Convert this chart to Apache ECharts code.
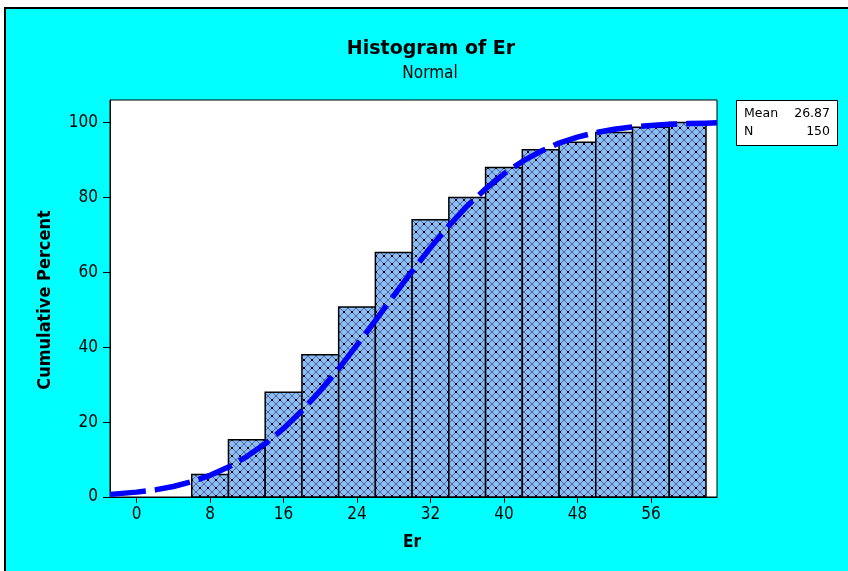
<!DOCTYPE html>
<html>
<head>
<meta charset="utf-8">
<script src="https://cdn.jsdelivr.net/npm/echarts@6/dist/echarts.min.js"></script>
<style>
html,body{margin:0;padding:0;background:#fff;}
#main{width:848px;height:571px;}
</style>
</head>
<body>
<div id="main"></div>
<script>
// ---- data ----
const binStart = [6, 10, 14, 18, 22, 26, 30, 34, 38, 42, 46, 50, 54, 58];
const binEnd   = [10, 14, 18, 22, 26, 30, 34, 38, 42, 46, 50, 54, 58, 62];
const cumPercent = [6.0, 15.3, 28.0, 38.0, 50.7, 65.3, 74.0, 80.0, 88.0, 92.7, 94.7, 97.3, 98.7, 100.0];

// fitted normal cumulative curve
const curveX = [-2.9, 0, 2, 4, 6, 8, 10, 12, 14, 16, 18, 20, 22, 24, 26, 28, 30, 32, 34, 36, 38, 40, 42, 44, 46, 48, 50, 52, 54, 56, 58, 60, 62, 63.2];
const curveY = [0.7, 1.3, 1.9, 2.8, 4.1, 5.8, 8.0, 10.8, 14.2, 18.3, 23.0, 28.4, 34.2, 40.6, 47.1, 53.8, 60.3, 66.6, 72.4, 77.7, 82.3, 86.3, 89.6, 92.3, 94.5, 96.1, 97.3, 98.2, 98.8, 99.2, 99.5, 99.7, 99.8, 99.9];

const xTicks = [0, 8, 16, 24, 32, 40, 48, 56];
const yTicks = [0, 20, 40, 60, 80, 100];
const statLabels = ['Mean', 'N'];
const statValues = ['26.87', '150'];

// ---- crosshatch pattern tile ----
function makeTile() {
  const n = 8;
  const c = document.createElement('canvas');
  c.width = n; c.height = n;
  const g = c.getContext('2d');
  g.fillStyle = '#8EBCF6';
  g.fillRect(0, 0, n, n);
  g.strokeStyle = '#4C6B92';
  g.lineWidth = 1;
  g.beginPath();
  g.moveTo(0, 0); g.lineTo(n, n);
  g.moveTo(n, 0); g.lineTo(0, n);
  g.stroke();
  g.fillStyle = '#000';
  g.fillRect(0, 0, 1, 1);
  g.fillRect(n - 1, 0, 1, 1);
  g.fillRect(0, n - 1, 1, 1);
  g.fillRect(n - 1, n - 1, 1, 1);
  return c;
}
const tile = makeTile();

const barData = binStart.map((s, i) => [s, binEnd[i], cumPercent[i]]);
const curveData = curveX.map((x, i) => [x, curveY[i]]);

const FONT = "'DejaVu Sans Condensed', 'DejaVu Sans', sans-serif";

const chart = echarts.init(document.getElementById('main'), null, {renderer: 'canvas'});
chart.setOption({
  backgroundColor: '#00FFFF',
  animation: false,
  grid: {
    left: 110, top: 100, width: 607, height: 397,
    show: true, backgroundColor: '#ffffff', borderColor: '#000', borderWidth: 1
  },
  xAxis: {
    type: 'value', min: -2.9, max: 63.2,
    axisLine: {show: true, onZero: false, lineStyle: {color: '#000', width: 1}},
    axisTick: {show: true, length: 6, inside: false, customValues: xTicks, lineStyle: {color: '#000'}},
    axisLabel: {customValues: xTicks, color: '#000', fontSize: 17, fontFamily: FONT, margin: 9},
    splitLine: {show: false}
  },
  yAxis: {
    type: 'value', min: 0, max: 106,
    axisLine: {show: true, onZero: false, lineStyle: {color: '#000', width: 1}},
    axisTick: {show: true, length: 7, inside: false, customValues: yTicks, lineStyle: {color: '#000'}},
    axisLabel: {customValues: yTicks, color: '#000', fontSize: 17, fontFamily: FONT, margin: 12},
    splitLine: {show: false}
  },
  series: [
    {
      type: 'custom',
      data: barData,
      encode: {x: [0, 1], y: 2},
      z: 2,
      renderItem: function (params, api) {
        const p1 = api.coord([api.value(0), api.value(2)]);
        const p2 = api.coord([api.value(1), 0]);
        return {
          type: 'rect',
          shape: {x: p1[0], y: p1[1], width: p2[0] - p1[0], height: p2[1] - p1[1]},
          style: {fill: {image: tile, repeat: 'repeat'}, stroke: '#000', lineWidth: 1.5}
        };
      }
    },
    {
      type: 'line',
      data: curveData,
      showSymbol: false,
      smooth: false,
      z: 5,
      lineStyle: {color: '#0000FF', width: 5.5, type: [36, 9], cap: 'butt', join: 'round'}
    }
  ],
  graphic: [
    {type: 'rect', shape: {x: 0, y: 0, width: 848, height: 7}, style: {fill: '#fff'}, silent: true},
    {type: 'rect', shape: {x: 0, y: 0, width: 4, height: 571}, style: {fill: '#fff'}, silent: true},
    {type: 'line', shape: {x1: 4, y1: 8, x2: 848, y2: 8}, style: {stroke: '#000', lineWidth: 2}, silent: true},
    {type: 'line', shape: {x1: 5, y1: 7, x2: 5, y2: 571}, style: {stroke: '#000', lineWidth: 2}, silent: true},
    {type: 'text', x: 431, y: 49, style: {text: 'Histogram of Er', fill: '#000', font: "bold 19px 'DejaVu Sans', sans-serif", textAlign: 'center', textVerticalAlign: 'middle'}},
    {type: 'text', x: 430, y: 74, style: {text: 'Normal', fill: '#000', font: "17px " + FONT, textAlign: 'center', textVerticalAlign: 'middle'}},
    {type: 'text', x: 412, y: 543, style: {text: 'Er', fill: '#000', font: "bold 17px " + FONT, textAlign: 'center', textVerticalAlign: 'middle'}},
    {type: 'text', x: 45, y: 300, rotation: Math.PI / 2, style: {text: 'Cumulative Percent', fill: '#000', font: "bold 18px " + FONT, textAlign: 'center', textVerticalAlign: 'middle'}},
    {type: 'rect', shape: {x: 736.5, y: 100.5, width: 101, height: 45}, style: {fill: '#fff', stroke: '#000', lineWidth: 1}},
    {type: 'text', x: 744, y: 114, style: {text: statLabels[0], fill: '#000', font: "12.5px 'DejaVu Sans', sans-serif", textVerticalAlign: 'middle'}},
    {type: 'text', x: 830, y: 114, style: {text: statValues[0], fill: '#000', font: "12.5px 'DejaVu Sans', sans-serif", textAlign: 'right', textVerticalAlign: 'middle'}},
    {type: 'text', x: 744, y: 132, style: {text: statLabels[1], fill: '#000', font: "12.5px 'DejaVu Sans', sans-serif", textVerticalAlign: 'middle'}},
    {type: 'text', x: 830, y: 132, style: {text: statValues[1], fill: '#000', font: "12.5px 'DejaVu Sans', sans-serif", textAlign: 'right', textVerticalAlign: 'middle'}}
  ]
});
</script>
</body>
</html>
